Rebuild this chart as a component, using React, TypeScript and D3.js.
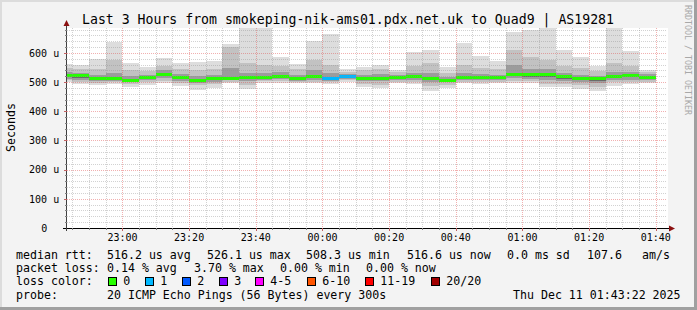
import React from 'react';
import * as d3 from 'd3';

// ---- data ----
const binStart = [
  "22:40","22:45","22:50","22:55","23:00","23:05","23:10","23:15","23:20","23:25","23:30","23:35",
  "23:40","23:45","23:50","23:55","00:00","00:05","00:10","00:15","00:20","00:25","00:30","00:35",
  "00:40","00:45","00:50","00:55","01:00","01:05","01:10","01:15","01:20","01:25","01:30","01:35"
];
const pingMin = [499,493,490,494,484,490,496,487,473,479,496,476,496,498,496,496,494,502,484,479,496,494,471,479,496,494,496,498,498,484,484,477,471,488,493,496];
const pingLo2 = [506,500,497,499,494,499,504,497,489,494,502,490,504,505,501,502,500,506,494,491,502,501,487,491,502,501,502,505,505,495,494,489,484,499,501,502];
const pingLo3 = [512,508,503,504,500,506,513,505,498,502,507,503,509,511,505,509,505,511,503,503,507,509,500,500,507,507,507,513,512,508,504,499,497,507,509,509];
const pingLo4 = [517,515,507,508,504,511,520,511,503,508,510,510,512,516,508,515,509,515,508,509,511,515,507,504,511,511,511,520,519,518,512,506,505,514,516,513];
const median  = [522,522,511,511,507,515,526,515,507,512,512,515,515,520,511,519,512,519,512,513,515,519,512,507,515,515,515,525,525,526,518,511,511,519,522,517];
const pingHi4 = [527,527,516,516,512,519,531,520,512,517,518,520,520,525,516,524,517,523,517,518,519,524,518,511,520,520,519,532,531,532,523,516,515,524,527,521];
const pingHi3 = [535,533,524,530,520,525,540,528,520,525,548,532,530,535,525,540,530,528,525,528,525,532,530,518,530,528,525,560,545,545,532,525,522,535,535,528];
const pingHi2 = [548,545,545,575,540,538,555,545,540,545,620,565,560,555,545,575,560,536,540,545,535,555,565,533,560,550,545,610,587,575,555,550,538,565,555,535];
const pingMax = [561,558,578,639,566,553,582,565,569,573,630,690,690,587,562,641,665,545,553,559,542,604,610,551,635,591,573,673,679,690,610,587,556,690,607,542];
const lossCount = [0,0,0,0,0,0,0,0,0,0,0,0,0,0,0,0,1,1,0,0,0,0,0,0,0,0,0,0,0,0,0,0,0,0,0,0];

const yTickValues = [0, 100, 200, 300, 400, 500, 600];
const timeLabels = ["23:00","23:20","23:40","00:00","00:20","00:40","01:00","01:20","01:40"];
const lossLabels = ["0","1","2","3","4-5","6-10","11-19","20/20"];
const lossColors = ["#26ff00","#00b8ff","#0059ff","#7e00ff","#ff00ff","#ff5500","#ff0000","#a10000"];

const titleText = "Last 3 Hours from smokeping-nik-ams01.pdx.net.uk to Quad9 | AS19281";
const rttLegend = ["516.2 us avg","526.1 us max","508.3 us min","516.6 us now","0.0 ms sd","107.6","am/s"];
const lossLegend = ["0.14 % avg","3.70 % max","0.00 % min","0.00 % now"];
const probeText = "20 ICMP Echo Pings (56 Bytes) every 300s";
const dateText = "Thu Dec 11 01:43:22 2025";

// ---- layout ----
const W = 697, H = 310;
const PL = 67, PR = 667, PT = 28, PB = 228;
const MONO = '"DejaVu Sans Mono", monospace';

const toMin = (s: string) => {
  const p = s.split(":").map(Number);
  const h = p[0], m = p[1], sec = p[2] || 0;
  const hh = h >= 12 ? h - 22 : h + 2;
  return hh * 60 + m + sec / 60;
};

export default function App() {
  const x = d3.scaleLinear().domain([toMin("22:43:22"), toMin("01:43:22")]).range([PL, PR]);
  const y = d3.scaleLinear().domain([0, 685.7]).range([PB, PT]);

  const minorX = d3.range(45, 224, 5).filter(m => m % 20 !== 0);
  const majorX = d3.range(60, 224, 20);
  const minorY = d3.range(20, 686, 20).filter(v => v % 100 !== 0);
  const majorY = d3.range(100, 686, 100);

  const bands: [number[], number[], string][] = [
    [pingMin, pingMax, "#dddddd"],
    [pingLo2, pingHi2, "#c2c2c2"],
    [pingLo3, pingHi3, "#9c9c9c"],
    [pingLo4, pingHi4, "#6a6a6a"],
  ];

  const lossIdx = (n: number) => (n <= 0 ? 0 : n === 1 ? 1 : n === 2 ? 2 : n === 3 ? 3 : n <= 5 ? 4 : n <= 10 ? 5 : n <= 19 ? 6 : 7);

  const rttX = [107, 207, 306, 407, 507, 587, 642];
  const lossX = [107, 194, 280, 366];
  const boxX = [108.5, 145.5, 182.5, 219.5, 255.5, 307.5, 365.5, 431.5];

  return (
    <svg width={W} height={H} style={{ position: 'absolute', left: 0, top: 0, display: 'block' }}
      fontFamily={MONO}>
      <defs>
        <clipPath id="plotclip"><rect x={PL} y={PT} width={PR - PL} height={PB - PT} /></clipPath>
      </defs>
      <rect x={0} y={0} width={W} height={H} fill="#f3f3f3" />
      <rect x={0} y={0} width={W} height={2} fill="#dcdcdc" />
      <rect x={0} y={0} width={2} height={H} fill="#dcdcdc" />
      <rect x={0} y={H - 3} width={W} height={3} fill="#a0a0a0" />
      <rect x={W - 3} y={0} width={3} height={H} fill="#a0a0a0" />

      <rect x={PL} y={PT} width={PR - PL + 1} height={PB - PT} fill="#ffffff" />

      <g clipPath="url(#plotclip)" shapeRendering="crispEdges">
        {bands.map(([lo, hi, col], b) => (
          <g key={b}>
            {binStart.map((t, i) => {
              const x0 = x(toMin(t)), x1 = x(toMin(t) + 5);
              return <rect key={i} x={x0} y={y(hi[i])} width={x1 - x0} height={y(lo[i]) - y(hi[i])} fill={col} />;
            })}
          </g>
        ))}
        {binStart.map((t, i) => {
          const x0 = x(toMin(t)), x1 = x(toMin(t) + 5);
          return <rect key={i} x={x0} y={y(median[i]) - 1.5} width={x1 - x0} height={3} fill={lossColors[lossIdx(lossCount[i])]} />;
        })}
      </g>

      {/* grid */}
      <g shapeRendering="crispEdges" strokeWidth={1}>
        {minorX.map(m => (
          <line key={'mx' + m} x1={Math.round(x(m)) + 0.5} x2={Math.round(x(m)) + 0.5} y1={PT} y2={PB}
            stroke="rgba(143,143,143,0.4)" strokeDasharray="1,1" />
        ))}
        {minorY.map(v => (
          <line key={'my' + v} x1={PL} x2={PR} y1={Math.round(y(v)) + 0.5} y2={Math.round(y(v)) + 0.5}
            stroke="rgba(143,143,143,0.4)" strokeDasharray="1,1" />
        ))}
        {majorX.map(m => (
          <line key={'Mx' + m} x1={Math.round(x(m)) + 0.5} x2={Math.round(x(m)) + 0.5} y1={PT} y2={PB}
            stroke="rgba(224,80,80,0.45)" strokeDasharray="1,1" />
        ))}
        {majorY.map(v => (
          <line key={'My' + v} x1={PL} x2={PR} y1={Math.round(y(v)) + 0.5} y2={Math.round(y(v)) + 0.5}
            stroke="rgba(224,80,80,0.45)" strokeDasharray="1,1" />
        ))}
      </g>

      {/* axes */}
      <g shapeRendering="crispEdges">
        <line x1={PL - 4} x2={PR + 3} y1={PB + 0.5} y2={PB + 0.5} stroke="#000" />
        <line x1={PL - 0.5} x2={PL - 0.5} y1={PB + 3} y2={PT - 4} stroke="#404040" />
        {minorX.map(m => (
          <line key={'tx' + m} x1={Math.round(x(m)) + 0.5} x2={Math.round(x(m)) + 0.5} y1={PB} y2={PB + 2} stroke="#808080" />
        ))}
        {majorX.map(m => (
          <line key={'Tx' + m} x1={Math.round(x(m)) + 0.5} x2={Math.round(x(m)) + 0.5} y1={PB} y2={PB + 3} stroke="#c06060" />
        ))}
        {minorY.map(v => (
          <line key={'ty' + v} x1={PL - 2} x2={PL} y1={Math.round(y(v)) + 0.5} y2={Math.round(y(v)) + 0.5} stroke="#808080" />
        ))}
        {majorY.map(v => (
          <line key={'Ty' + v} x1={PL - 3} x2={PL} y1={Math.round(y(v)) + 0.5} y2={Math.round(y(v)) + 0.5} stroke="#c06060" />
        ))}
      </g>
      <path d={`M${PR + 8},${PB + 0.5} L${PR + 2},${PB - 2.5} L${PR + 2},${PB + 3.5} Z`} fill="#8b1010" />
      <path d={`M${PL - 0.5},${PT - 8} L${PL - 3.5},${PT - 2} L${PL + 2.5},${PT - 2} Z`} fill="#8b1010" />

      {/* y labels */}
      <g fontSize={10} fill="#000">
        {yTickValues.map(v => (
          <text key={v} x={v === 0 ? 47.2 : 59.2} y={y(v) + 3.7} textAnchor="end">{v === 0 ? "0" : `${v} u`}</text>
        ))}
      </g>
      {/* x labels */}
      <g fontSize={10} fill="#000">
        {timeLabels.map(t => {
          const m = toMin(t);
          return <text key={t} x={x(m)} y={240.7} textAnchor="middle">{t}</text>;
        })}
      </g>

      {/* title */}
      <text x={348} y={24} fontSize={13.2} textAnchor="middle" fill="#000">{titleText}</text>
      {/* y axis title */}
      <text transform="translate(15,127.5) rotate(-90)" fontSize={11.6} textAnchor="middle" fill="#000">Seconds</text>
      {/* watermark */}
      <text transform="translate(685,5) rotate(90)" fontSize={8.3} fill="#a8a8a8">RRDTOOL / TOBI OETIKER</text>

      {/* legend */}
      <g fontSize={11.6} fill="#000" style={{ whiteSpace: 'pre' }}>
        <text x={16} y={258.5}>median rtt:</text>
        {rttLegend.map((s, i) => <text key={'r' + i} x={rttX[i]} y={258.5}>{s}</text>)}
        <text x={16} y={272}>packet loss:</text>
        {lossLegend.map((s, i) => <text key={'l' + i} x={lossX[i]} y={272}>{s}</text>)}
        <text x={16} y={285.3}>loss color:</text>
        {lossLabels.map((s, i) => (
          <g key={'c' + i}>
            <rect x={boxX[i]} y={277.5} width={8} height={8} fill={lossColors[i]} stroke="#000" strokeWidth={1} shapeRendering="crispEdges" />
            <text x={boxX[i] + 14.8} y={285.3}>{s}</text>
          </g>
        ))}
        <text x={16} y={298.7}>probe:</text>
        <text x={107} y={298.7}>{probeText}</text>
        <text x={513} y={298.7}>{dateText}</text>
      </g>
    </svg>
  );
}
